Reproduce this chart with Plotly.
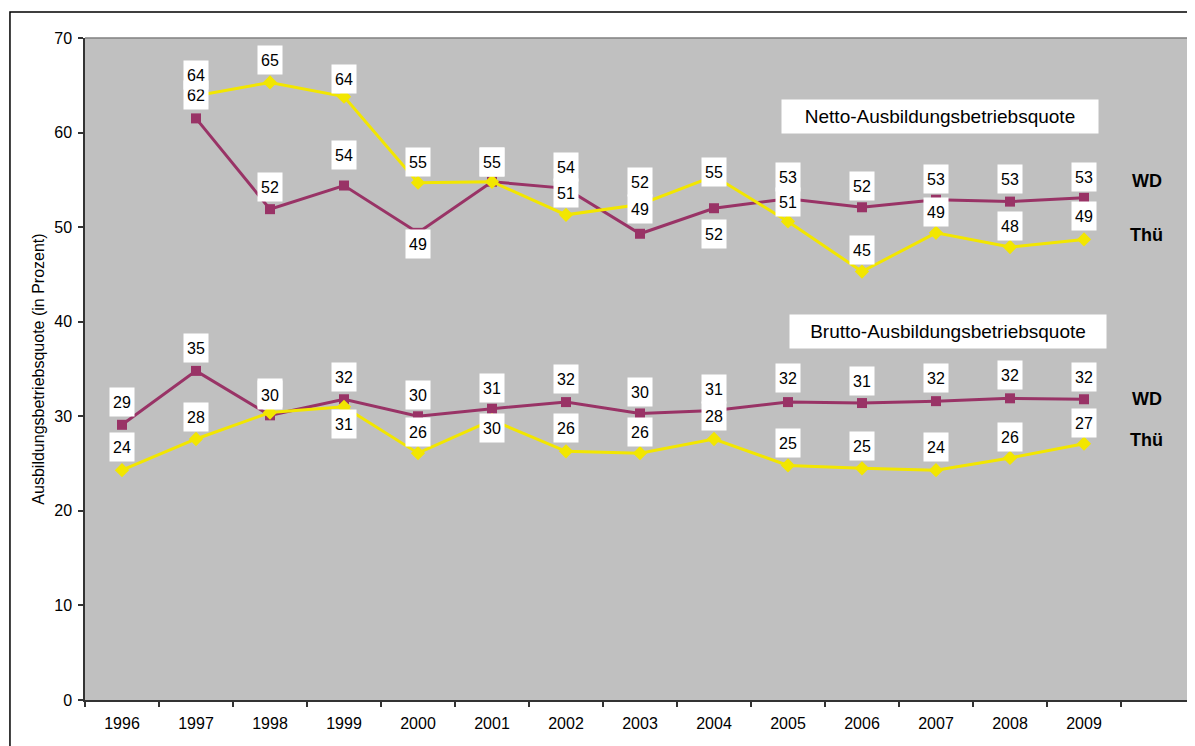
import plotly.graph_objects as go

# ---- data ----
years = [1996, 1997, 1998, 1999, 2000, 2001, 2002, 2003, 2004, 2005, 2006, 2007, 2008, 2009]
years_netto = years[1:]
netto_wd = [61.5, 51.9, 54.4, 49.4, 54.8, 54.1, 49.3, 52.0, 53.0, 52.1, 52.9, 52.7, 53.1]
netto_thu = [63.9, 65.3, 63.8, 54.7, 54.8, 51.3, 52.4, 55.4, 50.6, 45.3, 49.4, 47.9, 48.7]
brutto_wd = [29.1, 34.8, 30.1, 31.8, 30.0, 30.8, 31.5, 30.3, 30.6, 31.5, 31.4, 31.6, 31.9, 31.8]
brutto_thu = [24.3, 27.6, 30.4, 31.0, 26.1, 29.6, 26.3, 26.1, 27.6, 24.8, 24.5, 24.3, 25.6, 27.1]

# ---- label offsets (style, px above the point; negative = below) ----
shift_netto_wd = [23, 22, 31, -11, 20, 21, 25, -26, 22, 21, 21, 23, 21]
shift_netto_thu = [21, 22, 18, 21, 20, 22, 22, 4, 19, 22, 21, 21, 23]
shift_brutto_wd = [23, 23, 22, 22, 21, 21, 23, 21, 22, 24, 22, 23, 23, 22]
shift_brutto_thu = [23, 22, 18, -17, 21, -8, 23, 21, 23, 22, 22, 23, 21, 21]

WD_COLOR = "#993366"
THU_COLOR = "#F2E600"
FONT = "Liberation Sans, Arial, sans-serif"

fig = go.Figure()

def add_series(x, y, color, symbol, size):
    fig.add_trace(go.Scatter(
        x=x, y=y, mode="lines+markers",
        line=dict(color=color, width=3),
        marker=dict(symbol=symbol, size=size, color=color),
        showlegend=False, hoverinfo="skip"))

add_series(years, brutto_wd, WD_COLOR, "square", 10)
add_series(years, brutto_thu, THU_COLOR, "diamond", 11)
add_series(years_netto, netto_wd, WD_COLOR, "square", 10)
add_series(years_netto, netto_thu, THU_COLOR, "diamond", 11)

annotations = []

def add_labels(x, y, shifts):
    for xi, yi, s in zip(x, y, shifts):
        annotations.append(dict(
            x=xi, y=yi, xref="x", yref="y", text=str(int(yi + 0.5)),
            showarrow=False, yshift=s, bgcolor="white",
            width=22, height=26, borderpad=1,
            font=dict(family=FONT, size=16, color="black")))

add_labels(years, brutto_wd, shift_brutto_wd)
add_labels(years, brutto_thu, shift_brutto_thu)
add_labels(years_netto, netto_wd, shift_netto_wd)
add_labels(years_netto, netto_thu, shift_netto_thu)

# group titles
for txt, xx, yy in [("Netto-Ausbildungsbetriebsquote", 2007.05, 61.7),
                    ("Brutto-Ausbildungsbetriebsquote", 2007.16, 38.97)]:
    annotations.append(dict(
        x=xx, y=yy, xref="x", yref="y", text=txt, showarrow=False,
        bgcolor="white", width=310, height=27, borderpad=3,
        font=dict(family=FONT, size=19, color="black")))

# series names at right
for txt, yy in [("WD", 54.9), ("Thü", 49.2), ("WD", 31.8), ("Thü", 27.5)]:
    annotations.append(dict(
        x=2009.85, y=yy, xref="x", yref="y", text=f"<b>{txt}</b>",
        showarrow=False, font=dict(family=FONT, size=18, color="black")))

# page body has an 8px margin: figure is sized/offset to compensate
fig.update_layout(
    width=1187, height=738,
    margin=dict(l=77, r=0, t=30, b=46, autoexpand=False),
    paper_bgcolor="white", plot_bgcolor="#C0C0C0",
    font=dict(family=FONT, color="black"),
    annotations=annotations,
    shapes=[dict(type="rect", xref="paper", yref="paper",
                 x0=-0.0676, x1=1.02, y0=-0.2, y1=1.0393,
                 line=dict(color="black", width=1.5), layer="below"),
            dict(type="line", xref="paper", yref="paper", x0=0, x1=1, y0=1, y1=1,
                 line=dict(color="#808080", width=1.5))],
    xaxis=dict(
        range=[1995.5, 2010.5], tickmode="array", tickvals=years,
        ticktext=[str(y) for y in years], ticks="", showgrid=False,
        zeroline=False, showline=True, linecolor="#333333", linewidth=1.5,
        tickfont=dict(size=16), ticklabelstandoff=8,
        minor=dict(tickmode="array", tickvals=[y - 0.5 for y in years] + [2009.5],
                   ticks="outside", ticklen=5, tickcolor="#333333", tickwidth=1.5,
                   showgrid=False)),
    yaxis=dict(
        range=[0, 70], tickmode="linear", tick0=0, dtick=10,
        ticks="outside", ticklen=5, tickcolor="#333333", tickwidth=1.5,
        showgrid=False, zeroline=False, showline=True, linecolor="#333333",
        linewidth=1.5, tickfont=dict(size=16), ticklabelstandoff=3,
        title=dict(text="Ausbildungsbetriebsquote (in Prozent)",
                   font=dict(size=16), standoff=6)),
)

fig.write_html("out.html")
